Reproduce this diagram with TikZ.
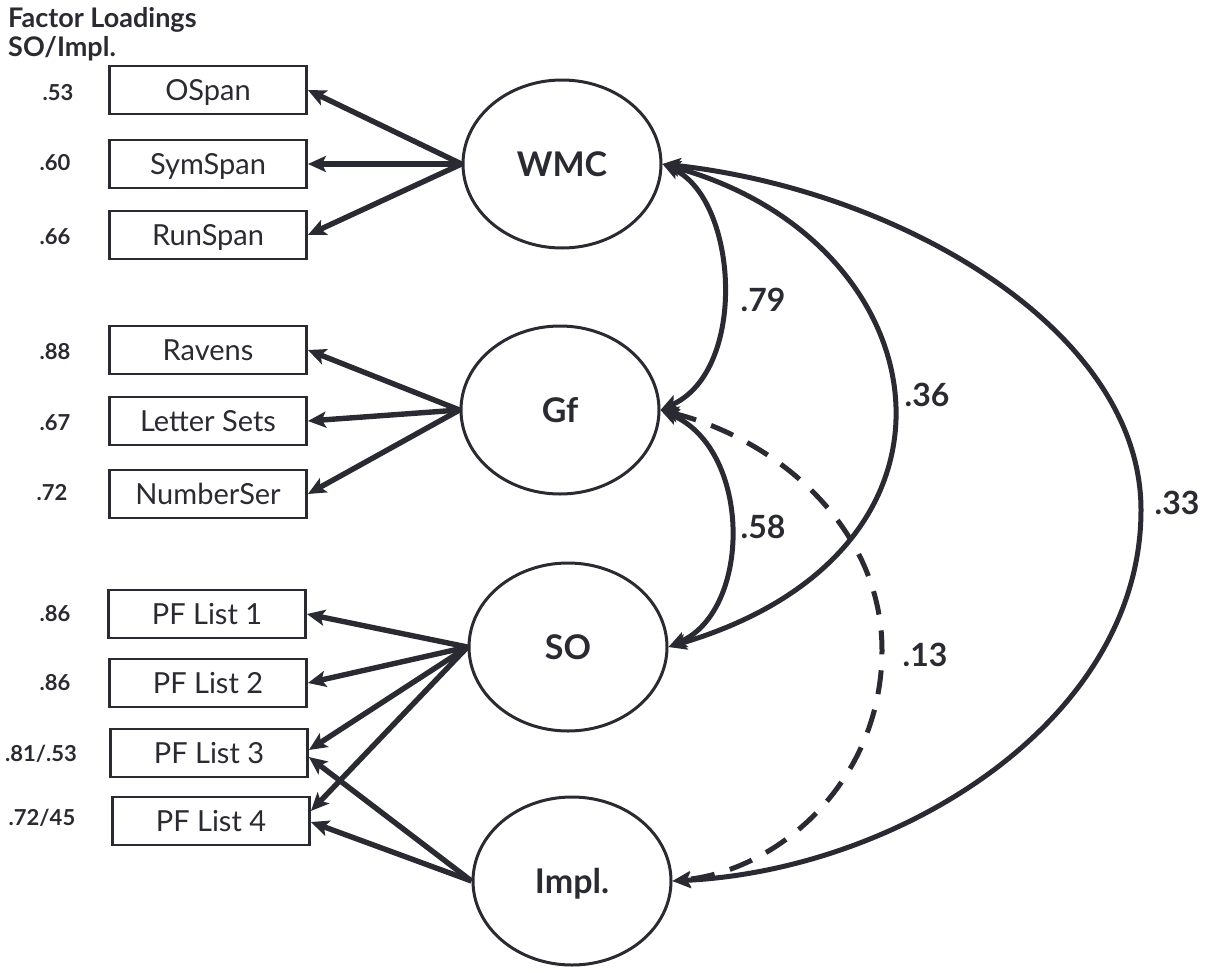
\documentclass[tikz,border=0pt]{standalone}
\usepackage{fontspec}
\setmainfont{Lato}
\usetikzlibrary{shapes.geometric,arrows.meta,calc}
\definecolor{ink}{RGB}{42,42,50}
\tikzset{headtip/.tip={Stealth[length=18pt,width=16pt,inset=4pt]}}
\begin{document}
\begin{tikzpicture}[x=1pt,y=-1pt,
  obs/.style={draw=ink, line width=2.8pt, minimum width=197pt, minimum height=48pt,
    inner sep=0pt, text=ink, font=\fontsize{29}{31}\selectfont,
    text height=21pt, text depth=0pt},
  lat/.style={ellipse, draw=ink, line width=3pt, minimum width=198pt, minimum height=168pt,
    inner sep=0pt, text=ink, font=\fontsize{34}{36}\selectfont\bfseries,
    text height=24.5pt, text depth=0pt},
  load/.style={draw=ink, line width=5.4pt, -{headtip}},
  cov/.style={draw=ink, line width=5pt, {headtip}-{headtip}},
  loadlbl/.style={text=ink, inner sep=0pt, font=\fontsize{22}{24}\selectfont\bfseries},
  covlbl/.style={text=ink, inner sep=0pt, font=\fontsize{32}{34}\selectfont\bfseries},
  titlelbl/.style={text=ink, inner sep=0pt, anchor=base west, font=\fontsize{27}{29}\selectfont\bfseries}
]
\useasboundingbox (0,0) rectangle (1207,972);

% heading
\node[titlelbl] (title1) at (8,27) {Factor Loadings};
\node[titlelbl] (title2) at (8,56) {SO/Impl.};

% latent factors
\node[lat] (wmc)  at (562,164) {WMC};
\node[lat] (gf)   at (560,410) {Gf};
\node[lat] (so)   at (568,647) {SO};
\node[lat] (impl) at (572,881) {Impl.};

% indicators
\node[obs] (ospan)   at (208,90)  {OSpan};
\node[obs] (symspan) at (208,164) {SymSpan};
\node[obs] (runspan) at (208,235) {RunSpan};
\node[obs] (ravens)  at (208,350) {Ravens};
\node[obs] (letters) at (208,421) {Letter Sets};
\node[obs] (numser)  at (208,494) {NumberSer};
\node[obs] (pf1)     at (207,614) {PF List 1};
\node[obs] (pf2)     at (208,683) {PF List 2};
\node[obs] (pf3)     at (209,753) {PF List 3};
\node[obs] (pf4)     at (211,821) {PF List 4};

% loadings
\node[loadlbl] (l1)  at (58,93)   {.53};
\node[loadlbl] (l2)  at (55,163)  {.60};
\node[loadlbl] (l3)  at (55,237)  {.66};
\node[loadlbl] (l4)  at (55,352)  {.88};
\node[loadlbl] (l5)  at (55,423)  {.67};
\node[loadlbl] (l6)  at (52,493)  {.72};
\node[loadlbl] (l7)  at (55,614)  {.86};
\node[loadlbl] (l8)  at (55,683)  {.86};
\node[loadlbl] (l9)  at (41,754)  {.81/.53};
\node[loadlbl] (l10) at (42,818)  {.72/45};

% factor -> indicator paths
\draw[load] (wmc.west) -- (ospan.east);
\draw[load] (wmc.west) -- (symspan.east);
\draw[load] (wmc.west) -- (runspan.east);
\draw[load] (gf.west) -- (ravens.east);
\draw[load] (gf.west) -- (letters.east);
\draw[load] (gf.west) -- (numser.east);
\draw[load] (so.west) -- (pf1.east);
\draw[load] (so.west) -- (pf2.east);
\draw[load] (so.west) -- ($(pf3.east)+(0,-3)$);
\draw[load] (so.west) -- ($(pf4.east)+(0,-10)$);
\draw[load] (impl.west) -- ($(pf3.east)+(0,4)$);
\draw[load] (impl.west) -- ($(pf4.east)+(0,1)$);

% factor correlations
\coordinate (r33) at (1141,510);
\coordinate (r13) at (882,650);
\draw[cov] (wmc.east) .. controls (738,200) and (748,370) .. (gf.east);
\draw[cov] (gf.east) .. controls (752,450) and (752,610) .. (so.east);
\draw[cov] (wmc.east) .. controls (940,240) and (996,550) .. (so.east);
\draw[cov] (wmc.east) .. controls (900,190) and (1141,330) .. (r33)
                      .. controls (1141,720) and (900,870) .. (impl.east);
\draw[cov, dash pattern=on 24pt off 16pt] (gf.east) .. controls (780,440) and (882,530) .. (r13)
                      .. controls (882,780) and (780,870) .. (impl.east);

\node[covlbl] (c79) at (763,300) {.79};
\node[covlbl] (c58) at (763,527) {.58};
\node[covlbl] (c36) at (927,395) {.36};
\node[covlbl] (c33) at (1177,503) {.33};
\node[covlbl] (c13) at (925,655) {.13};
\end{tikzpicture}
\end{document}
